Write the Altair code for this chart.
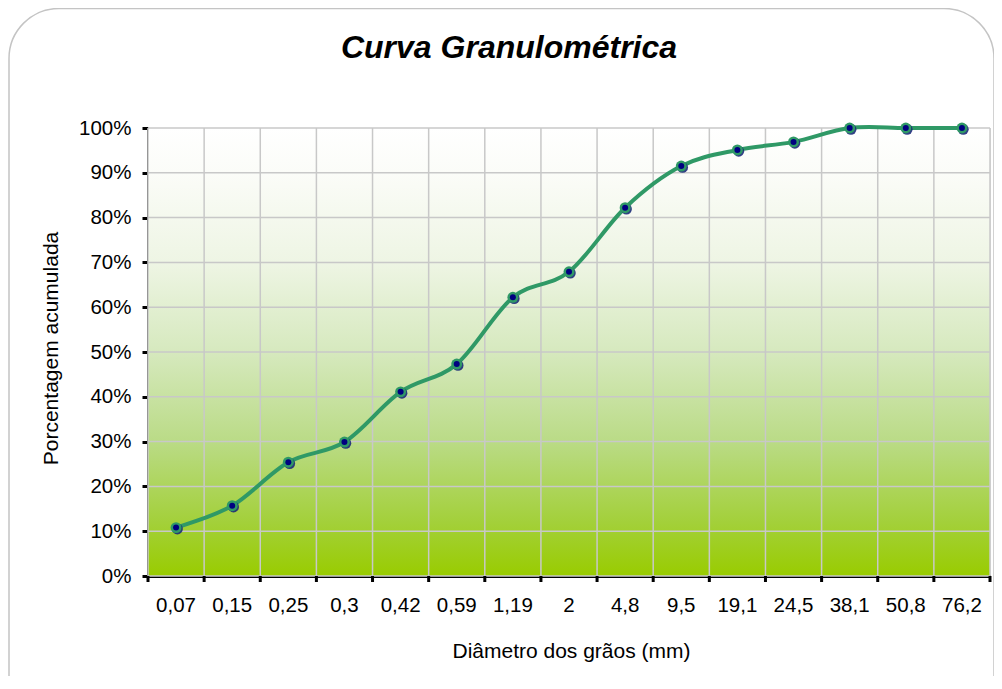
import altair as alt
import pandas as pd

# ---- data ----
diametros = ["0,07", "0,15", "0,25", "0,3", "0,42", "0,59", "1,19", "2",
             "4,8", "9,5", "19,1", "24,5", "38,1", "50,8", "76,2"]
passante = [10.8, 15.7, 25.4, 29.9, 41.1, 47.3, 62.2, 67.9,
            82.2, 91.5, 95.1, 96.9, 100.0, 100.0, 100.0]
y_ticks = [0, 10, 20, 30, 40, 50, 60, 70, 80, 90, 100]
titulo = "Curva Granulométrica"
x_titulo = "Diâmetro dos grãos (mm)"
y_titulo = "Porcentagem acumulada"

df = pd.DataFrame({"d": diametros, "p": [v / 100 for v in passante]})
df_ticks = pd.DataFrame({"t": [v / 100 for v in y_ticks]})
df_last = pd.DataFrame({"d": [diametros[-1]]})
df_one = pd.DataFrame({"titulo": [titulo]})

W, H = 842, 448
FONT = "Liberation Sans"
GRID = "#C8C8C8"
LINE = "#2F9966"

xscale = alt.Scale(domain=diametros, paddingInner=0, paddingOuter=0)
yscale = alt.Scale(domain=[0, 1], nice=False)

gradient = alt.LinearGradient(
    gradient="linear",
    x1=0, x2=0, y1=1, y2=0,
    stops=[
        alt.GradientStop(offset=0.0, color="#99CC00"),
        alt.GradientStop(offset=0.12, color="#A3D03A"),
        alt.GradientStop(offset=0.3, color="#BADB86"),
        alt.GradientStop(offset=0.5, color="#D6E9BE"),
        alt.GradientStop(offset=0.7, color="#EEF5E4"),
        alt.GradientStop(offset=0.9, color="#FBFCF8"),
        alt.GradientStop(offset=1.0, color="#FFFFFF"),
    ],
)

frame = alt.Chart(df_one).mark_rect(
    fill="transparent", stroke="#C4C4C4", strokeWidth=1.5, cornerRadius=50
).encode(
    x=alt.value(-139), x2=alt.value(846),
    y=alt.value(-119.5), y2=alt.value(620),
)

bg = alt.Chart(df_one).mark_rect(fill=gradient).encode(
    x=alt.value(0), x2=alt.value(W), y=alt.value(0), y2=alt.value(H)
)

hgrid = alt.Chart(df_ticks).mark_rule(color=GRID, strokeWidth=1.5).encode(
    y=alt.Y("t:Q", scale=yscale)
)

vgrid = alt.Chart(df).mark_rule(color=GRID, strokeWidth=1.5).encode(
    x=alt.X("d:N", scale=xscale, bandPosition=0, sort=diametros)
)
vgrid_end = alt.Chart(df_last).mark_rule(color=GRID, strokeWidth=1.5).encode(
    x=alt.X("d:N", scale=xscale, bandPosition=1, sort=diametros)
)

xticks = alt.Chart(df).mark_rule(color="black", strokeWidth=3).encode(
    x=alt.X("d:N", scale=xscale, bandPosition=0, sort=diametros),
    y=alt.value(H), y2=alt.value(H + 6),
)
xticks_end = alt.Chart(df_last).mark_rule(color="black", strokeWidth=3).encode(
    x=alt.X("d:N", scale=xscale, bandPosition=1, sort=diametros),
    y=alt.value(H), y2=alt.value(H + 6),
)

x_enc = alt.X(
    "d:N", scale=xscale, sort=diametros,
    axis=alt.Axis(
        title=x_titulo, grid=False, ticks=False, labelAngle=0,
        domainColor="black", domainWidth=3,
        labelFont=FONT, labelFontSize=20.5, labelColor="black",
        labelPadding=29, labelOverlap=False, labelAlign="center",
        titleFont=FONT, titleFontSize=21, titleFontWeight="normal",
        titleColor="black", titleBaseline="alphabetic", titleY=81, titleX=423,
    ),
)
y_enc = alt.Y(
    "p:Q", scale=yscale,
    axis=alt.Axis(
        title=y_titulo, grid=False, values=[v / 100 for v in y_ticks], format=".0%",
        domainColor="black", domainWidth=3, tickColor="black", tickWidth=3,
        tickSize=6, labelFont=FONT, labelFontSize=20.5, labelColor="black",
        labelPadding=11, titleFont=FONT, titleFontSize=21, titleFontWeight="normal",
        titleColor="black", titleAngle=270, titleAlign="center",
        titleBaseline="alphabetic", titleX=-91, titleY=220,
    ),
)

line = alt.Chart(df).mark_line(
    interpolate="cardinal", color=LINE, strokeWidth=4
).encode(x=x_enc, y=y_enc)

shadow = alt.Chart(df).mark_point(
    filled=True, shape="circle", size=120, color="#1B2A78", opacity=0.9,
    xOffset=1.3, yOffset=1.3
).encode(x=alt.X("d:N", scale=xscale, sort=diametros), y=alt.Y("p:Q", scale=yscale))

outer = alt.Chart(df).mark_point(
    filled=True, shape="circle", size=120, color=LINE, opacity=1
).encode(x=alt.X("d:N", scale=xscale, sort=diametros), y=alt.Y("p:Q", scale=yscale))

inner = alt.Chart(df).mark_point(
    filled=True, shape="circle", size=36, color="#000080", opacity=1
).encode(x=alt.X("d:N", scale=xscale, sort=diametros), y=alt.Y("p:Q", scale=yscale))

title = alt.Chart(df_one).mark_text(
    font=FONT, fontSize=32, fontWeight="bold", fontStyle="italic",
    color="black", align="center", baseline="alphabetic"
).encode(x=alt.value(361), y=alt.value(-70), text="titulo:N")

chart = alt.layer(
    frame, bg, hgrid, vgrid, vgrid_end, xticks, xticks_end,
    line, shadow, outer, inner, title
).properties(
    width=W, height=H,
    autosize=alt.AutoSizeParams(type="none"),
    padding={"left": 140, "top": 120, "right": 4, "bottom": 100},
).configure_view(stroke=None).configure(background="white")

chart.save("out.html", embed_options={"renderer": "svg", "actions": False})
